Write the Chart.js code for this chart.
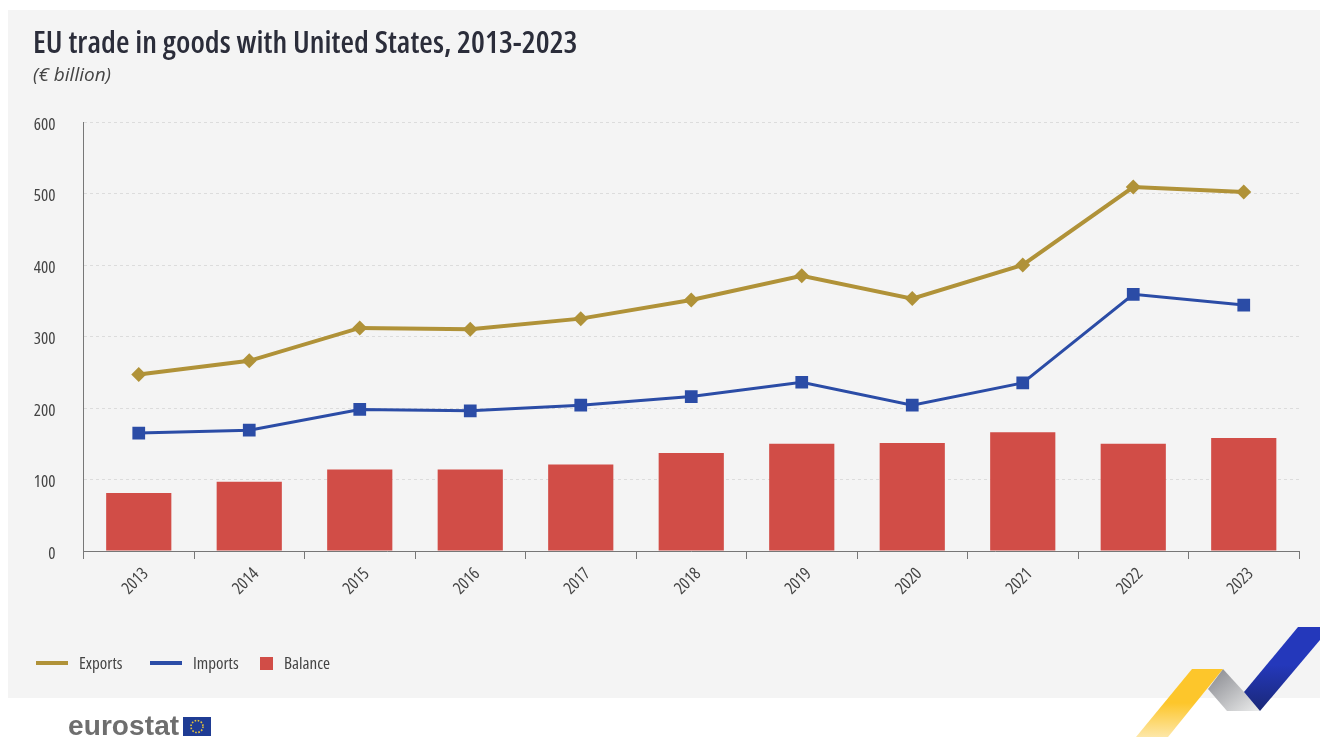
<!DOCTYPE html>
<html>
<head>
<meta charset="utf-8">
<title>EU trade in goods with United States, 2013-2023</title>
<script src="https://cdn.jsdelivr.net/npm/chart.js@4"></script>
<style>
  html, body { margin: 0; padding: 0; background: #fff; overflow: hidden; }
  body { width: 1320px; height: 737px; position: relative; font-family: "Open Sans", sans-serif; font-stretch: 75%; }
  #panel { position: absolute; left: 8px; top: 10px; width: 1312px; height: 688px; background: #f4f4f4; }
  #chart { position: absolute; left: 0; top: 0; }
  #title { position: absolute; left: 33px; top: 20px; font-size: 31px; font-weight: 600; letter-spacing: 0.06px; color: #2b2d3a; white-space: nowrap; }
  #unit { position: absolute; left: 33px; top: 61px; font-size: 19px; font-style: italic; font-stretch: 96%; color: #444; white-space: nowrap; }
  .leg { position: absolute; top: 651px; font-size: 17px; color: #444; white-space: nowrap; }
  .key { position: absolute; }
  #logo { position: absolute; left: 68px; top: 710px; font-family: "Liberation Sans", sans-serif; font-size: 28px; font-weight: bold; color: #6e6e6e; letter-spacing: 0.1px; }
  svg { position: absolute; left: 0; top: 0; }
</style>
</head>
<body>
<div id="panel"></div>
<canvas id="chart" width="1320" height="737"></canvas>
<div id="title">EU trade in goods with United States, 2013-2023</div>
<div id="unit">(€ billion)</div>

<div class="key" style="left:36px;top:661px;width:32px;height:4px;background:#b09238"></div>
<div class="leg" style="left:79px">Exports</div>
<div class="key" style="left:150px;top:661px;width:32px;height:4px;background:#2b4ca6"></div>
<div class="leg" style="left:193px">Imports</div>
<div class="key" style="left:260px;top:657px;width:13px;height:13px;background:#d14d47"></div>
<div class="leg" style="left:284px">Balance</div>

<div id="logo">eurostat</div>
<svg width="1320" height="737">
  <defs>
    <linearGradient id="gy" x1="0" y1="0" x2="0" y2="1"><stop offset="0.5" stop-color="#fdc62b"/><stop offset="1" stop-color="#fde7a8"/></linearGradient>
    <linearGradient id="gg" x1="0" y1="0" x2="1" y2="1"><stop offset="0" stop-color="#85868c"/><stop offset="1" stop-color="#eceded"/></linearGradient>
    <linearGradient id="gb" x1="0" y1="1" x2="0" y2="0"><stop offset="0" stop-color="#1a2877"/><stop offset="0.55" stop-color="#2438bb"/></linearGradient>
  </defs>
  <polygon points="1227,711 1208,689 1223,669 1244,692 1260,711" fill="url(#gg)"/>
  <polygon points="1192,669 1223,669 1168,737 1136,737" fill="url(#gy)"/>
  <polygon points="1298,627 1320,627 1320,640 1260,711 1244,692" fill="url(#gb)"/>
  <rect x="183" y="717" width="28" height="19" fill="#1f3c94"/>
  <circle cx="197" cy="726.5" r="6" fill="none" stroke="#e8c53a" stroke-width="1.6" stroke-dasharray="1.6 1.54"/>
</svg>

<script>
// values, EUR billion
const years = ['2013', '2014', '2015', '2016', '2017', '2018', '2019', '2020', '2021', '2022', '2023'];
const exportsEur = [247, 266, 312, 310, 325, 351, 385, 353, 400, 509, 502];
const importsEur = [165, 169, 198, 196, 204, 216, 236, 204, 235, 359, 344];
const balanceEur = [81, 97, 114, 114, 121, 137, 150, 151, 166, 150, 158];
const yTicks = [0, 100, 200, 300, 400, 500, 600];

const axisFont = { family: '"Open Sans", sans-serif', size: 17 };

// tick labels are condensed like the rest of the text
const condensedText = {
  id: 'condensedText',
  beforeDraw: function(chart) { chart.ctx.fontStretch = 'condensed'; }
};

new Chart(document.getElementById('chart'), {
  type: 'bar',
  plugins: [condensedText],
  data: {
    labels: years,
    datasets: [
      {
        type: 'line',
        label: 'Exports',
        data: exportsEur,
        borderColor: '#b09238',
        backgroundColor: '#b09238',
        borderWidth: 4,
        pointStyle: 'rectRot',
        pointRadius: 7.5,
        pointBorderWidth: 0,
        tension: 0
      },
      {
        type: 'line',
        label: 'Imports',
        data: importsEur,
        borderColor: '#2b4ca6',
        backgroundColor: '#2b4ca6',
        borderWidth: 3,
        pointStyle: 'rect',
        pointRadius: 9,
        pointBorderWidth: 0,
        tension: 0
      },
      {
        label: 'Balance',
        data: balanceEur,
        backgroundColor: '#d14d47',
        categoryPercentage: 1,
        barPercentage: 0.59
      }
    ]
  },
  options: {
    responsive: false,
    animation: false,
    layout: { padding: { top: 122, right: 21, left: 0, bottom: 0 } },
    scales: {
      x: {
        afterFit: function(scale) { scale.height = 186; },
        grid: { drawOnChartArea: false, drawTicks: true, tickLength: 8, tickColor: '#777', offset: true },
        border: { color: '#777', width: 1 },
        ticks: { color: '#444', font: axisFont, minRotation: 45, maxRotation: 45, labelOffset: 7, padding: 5 }
      },
      y: {
        min: 0,
        max: 600,
        afterFit: function(scale) { scale.width = 83.5; },
        afterBuildTicks: function(scale) { scale.ticks = yTicks.map(function(v) { return { value: v }; }); },
        grid: { color: '#dcdcdc', drawTicks: false },
        border: { color: '#777', width: 1, dash: [3, 3] },
        ticks: { color: '#444', font: axisFont, padding: 28, labelOffset: 3 }
      }
    },
    plugins: {
      legend: { display: false },
      tooltip: { enabled: false }
    }
  }
});
</script>
</body>
</html>
